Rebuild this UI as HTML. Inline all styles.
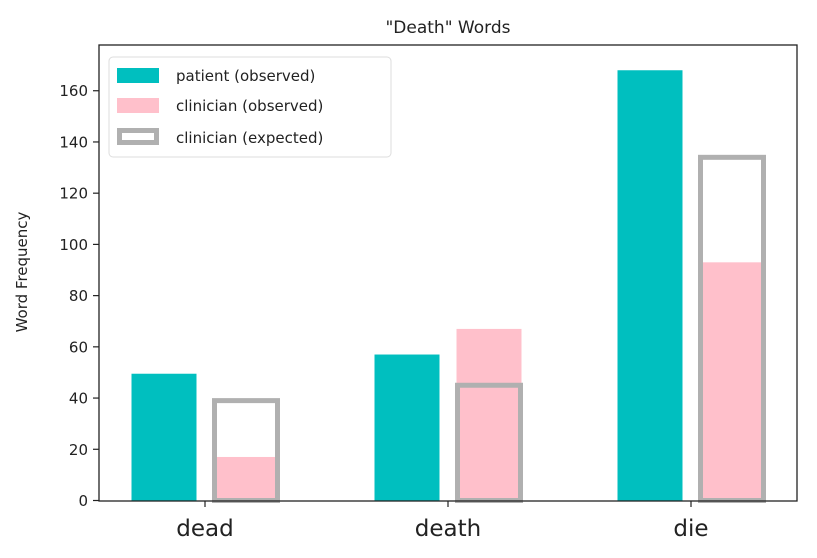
<!DOCTYPE html>
<html><head><meta charset="utf-8"><style>
html,body{margin:0;padding:0;background:#fff;}
svg{display:block;font-family:"DejaVu Sans","Liberation Sans",sans-serif;}
</style></head><body>
<svg id="chart" width="817" height="558" viewBox="0 0 817 558">
<rect width="817" height="558" fill="#fff"/>
<text x="448" y="33" font-size="17" text-anchor="middle" fill="#222">"Death" Words</text>
<text transform="translate(27,272) rotate(-90)" font-size="15" text-anchor="middle" fill="#222">Word Frequency</text>
<g id="bars"></g>
<g id="yaxis"></g>
<g id="xaxis"></g>
<rect x="99" y="45" width="698" height="456" fill="none" stroke="#222" stroke-width="1.3"/>
<g>
<rect x="109" y="57" width="282" height="100" rx="4" fill="#fff" fill-opacity="0.85" stroke="#ddd"/>
<rect x="117" y="68" width="42" height="15" fill="#00bfbf"/>
<text x="176" y="81" font-size="15" fill="#222">patient (observed)</text>
<rect x="117" y="98" width="42" height="15" fill="#ffc0cb"/>
<text x="176" y="111" font-size="15" fill="#222">clinician (observed)</text>
<rect x="119.5" y="130.5" width="37" height="12" fill="#fff" stroke="#b0b0b0" stroke-width="5"/>
<text x="176" y="143" font-size="15" fill="#222">clinician (expected)</text>
</g>
</svg>
<script>
const categories = ["dead", "death", "die"];
const patientObserved = [49.5, 57, 168];
const clinicianObserved = [17, 67, 93];
const clinicianExpected = [39, 45, 134];
const yTicks = [0, 20, 40, 60, 80, 100, 120, 140, 160];

const NS = "http://www.w3.org/2000/svg";
const y0 = 500.5, yScale = 2.561;
function yPos(v){ return y0 - v * yScale; }
function xPos(i){ return 205 + i * 243; }
const barW = 65;
function mk(tag, attrs, parent){
  const e = document.createElementNS(NS, tag);
  for (const k in attrs) e.setAttribute(k, attrs[k]);
  parent.appendChild(e);
  return e;
}
const bars = document.getElementById("bars");
const yaxis = document.getElementById("yaxis");
const xaxis = document.getElementById("xaxis");

categories.forEach((c, i) => {
  const cx = xPos(i);
  const p = mk("rect", {x: cx - 41 - barW/2, y: yPos(patientObserved[i]), width: barW, height: y0 - yPos(patientObserved[i]), fill: "#00bfbf"}, bars);
  
  
  const o = mk("rect", {x: cx + 41 - barW/2, y: yPos(clinicianObserved[i]), width: barW, height: y0 - yPos(clinicianObserved[i]), fill: "#ffc0cb"}, bars);
  
  
  const ex = mk("rect", {x: cx + 41 - barW/2 + 1, y: yPos(clinicianExpected[i]), width: barW - 2, height: y0 - yPos(clinicianExpected[i]), fill: "none", stroke: "#b0b0b0", "stroke-width": 5}, bars);
  
  
  const t = mk("line", {x1: cx, x2: cx, y1: 501, y2: 507, stroke: "#222", "stroke-width": 1.2}, xaxis);
  
  
  const l = mk("text", {x: cx, y: 536, "font-size": 23, "text-anchor": "middle", fill: "#222"}, xaxis);
  l.textContent = c;
  
  
});

yTicks.forEach(v => {
  const y = yPos(v);
  const t = mk("line", {x1: 93, x2: 99, y1: y, y2: y, stroke: "#222", "stroke-width": 1.2}, yaxis);
  
  
  const l = mk("text", {x: 88, y: y + 5.5, "font-size": 15, "text-anchor": "end", fill: "#222"}, yaxis);
  l.textContent = v;
  
  
});
</script>
</body></html>
